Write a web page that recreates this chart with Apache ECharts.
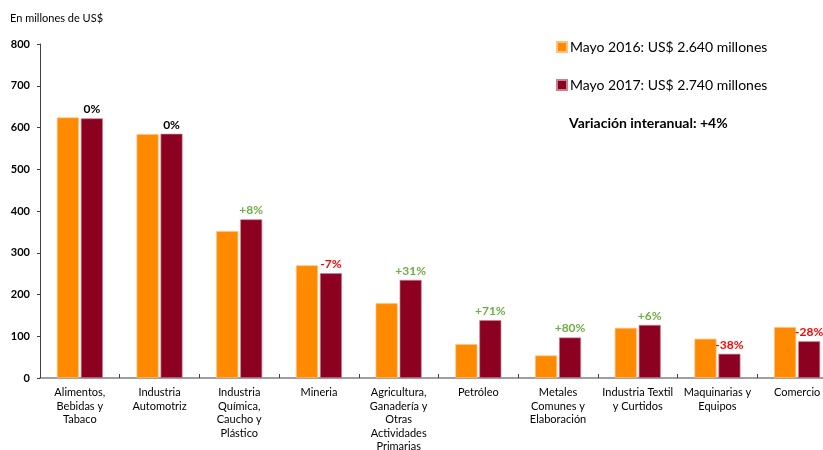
<!DOCTYPE html>
<html>
<head>
<meta charset="utf-8">
<script src="https://cdn.jsdelivr.net/npm/echarts@6/dist/echarts.min.js"></script>
<style>
  html, body { margin: 0; padding: 0; background: #fff; }
  #chart { width: 823px; height: 450px; }
</style>
</head>
<body>
<div id="chart"></div>
<script>
// Exportaciones por sector, mayo 2016 vs mayo 2017 (millones de US$)
const categories = [
  'Alimentos,\nBebidas y\nTabaco',
  'Industria\nAutomotriz',
  'Industria\nQuímica,\nCaucho y\nPlástico',
  'Mineria',
  'Agricultura,\nGanadería y\nOtras\nActividades\nPrimarias',
  'Petróleo',
  'Metales\nComunes y\nElaboración',
  'Industria Textil\ny Curtidos',
  'Maquinarias y\nEquipos',
  'Comercio'
];
const may2016 = [624, 584, 352, 270, 179, 81, 54, 120, 94, 122];
const may2017 = [622, 585, 380, 251, 235, 138.5, 97, 127, 58, 88];
const variation = ['0%', '0%', '+8%', '-7%', '+31%', '+71%', '+80%', '+6%', '-38%', '-28%'];
const yTicks = [0, 100, 200, 300, 400, 500, 600, 700, 800];

const seriesNames = ['Mayo 2016: US$ 2.640 millones', 'Mayo 2017: US$ 2.740 millones'];
const ORANGE = '#FF8A00';
const WINE = '#8C0020';
const FONT = 'Lato, "Open Sans", sans-serif';

function variationColor(txt) {
  if (txt.charAt(0) === '+') return '#70AD47';
  if (txt.charAt(0) === '-') return '#FF0000';
  return '#000000';
}

const chart = echarts.init(document.getElementById('chart'));
chart.setOption({
  animation: false,
  textStyle: { fontFamily: FONT },
  // the last category runs a little past the right edge of the canvas,
  // and the longest category label is cut off at the bottom
  grid: { left: 40, top: 44, width: 797, height: 334, containLabel: false, outerBoundsMode: 'none' },
  legend: {
    orient: 'vertical',
    left: 551, top: 35,
    itemWidth: 10, itemHeight: 10, itemGap: 24,
    icon: 'rect',
    textStyle: { fontSize: 14, color: '#000', fontFamily: FONT, padding: [0, 0, 0, -2] },
    data: seriesNames
  },
  graphic: [
    {
      type: 'text', left: 10, top: 13,
      style: { text: 'En millones de US$', font: '11px ' + FONT, fill: '#000' }
    },
    {
      type: 'text', left: 569, top: 116,
      style: { text: 'Variación interanual: +4%', font: 'bold 14px ' + FONT, fill: '#000' }
    }
  ],
  xAxis: {
    type: 'category',
    data: categories,
    axisLine: { lineStyle: { color: '#808080', width: 1.5 } },
    axisTick: { show: true, inside: true, length: 4, alignWithLabel: false, lineStyle: { color: '#404040' } },
    axisLabel: { interval: 0, fontSize: 11, color: '#000', lineHeight: 13.5, margin: 8, fontFamily: FONT }
  },
  yAxis: {
    type: 'value',
    min: yTicks[0], max: yTicks[yTicks.length - 1], interval: 100,
    splitLine: { show: false },
    axisLine: { show: true, lineStyle: { color: '#404040' } },
    axisTick: { show: true, length: 3, lineStyle: { color: '#404040' } },
    axisLabel: { fontSize: 11, fontWeight: 'bold', color: '#000', margin: 10, fontFamily: FONT }
  },
  series: [
    {
      name: seriesNames[0], type: 'bar', data: may2016,
      barWidth: 22, barGap: '9%',
      itemStyle: { color: ORANGE, borderColor: '#FFC27A', borderWidth: 0.7 }
    },
    {
      name: seriesNames[1], type: 'bar',
      data: may2017.map((v, i) => ({
        value: v,
        label: { color: variationColor(variation[i]) }
      })),
      barWidth: 22,
      itemStyle: { color: WINE, borderColor: '#C98090', borderWidth: 0.7 },
      label: {
        show: true, position: 'top', distance: 3,
        fontSize: 12, fontWeight: 'bold', fontFamily: FONT,
        formatter: p => variation[p.dataIndex]
      }
    }
  ]
});
</script>
</body>
</html>
